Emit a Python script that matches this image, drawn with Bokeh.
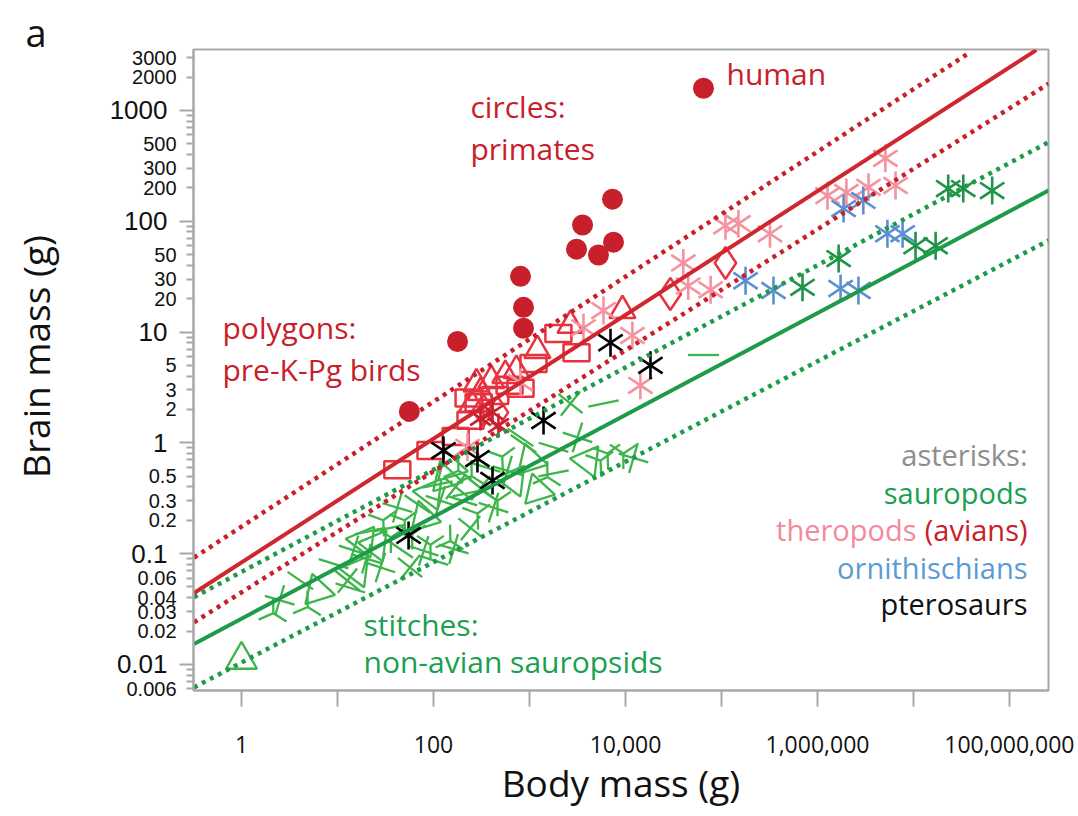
import numpy as np
from bokeh.plotting import figure
from bokeh.layouts import row
from bokeh.models import Range1d, FixedTicker, Title
from bokeh.core.properties import value
from bokeh.embed import file_html
from bokeh.resources import INLINE

# ---------------- data (grams) ----------------
primate_body = [56, 178, 806, 866, 866, 3090, 3570, 5230, 7320, 7500, 64900]
primate_brain = [1.92, 8.2, 31.8, 16.7, 10.8, 55.9, 92.5, 49.5, 158, 64.7, 1585]

bird_square_body = [42, 93, 170, 243, 295, 440, 620, 806, 1100, 2000, 3090, 232]
bird_square_brain = [0.57, 0.85, 1.14, 1.6, 2.3, 2.67, 3.3, 3.1, 5.2, 9.7, 6.5, 2.54]
bird_triangle_body = [280, 310, 400, 560, 730, 1210, 2670, 9300, 250]
bird_triangle_brain = [3.4, 2.85, 3.65, 4.05, 4.5, 6.8, 11.5, 15.6, 2.2]
bird_diamond_body = [330, 464, 29300, 110000]
bird_diamond_brain = [1.96, 1.88, 22, 42]

avian_body = [309, 412, 475]
avian_brain = [1.66, 1.88, 1.43]

theropod_body = [5900, 11800, 14300, 40000, 45000, 77000, 110000, 150000, 320000,
                 1.27e6, 2.0e6, 3.4e6, 5.1e6, 6.5e6, 3650, 226, 806]
theropod_brain = [15.6, 9.3, 3.3, 42, 26, 24, 91, 95, 77,
                  170, 182, 202, 369, 210, 10.9, 0.91, 3.5]

ornith_body = [178000, 348000, 1.74e6, 2.67e6, 1.87e6, 3.0e6, 5.35e6, 7.7e6]
ornith_brain = [29, 23.7, 24.7, 23.7, 130, 154, 77, 77]

sauropod_body = [698000, 1.66e6, 1.05e7, 1.7e7, 2.3e7, 3.3e7, 6.6e7]
sauropod_brain = [25.3, 46, 60, 60, 197, 197, 189]

ptero_body = [55, 127, 287, 412, 1400, 6980, 18200]
ptero_brain = [0.146, 0.85, 0.72, 0.457, 1.59, 8.0, 5.0]

stitch_body = [1.0, 2.5, 4.1, 6.2, 4.9, 9.1, 12.7, 14.7, 18.6, 22, 30, 36, 42, 68, 79,
               2.15, 13.6, 57, 79, 93, 226, 287, 464, 590, 866, 1020, 1540, 1780, 2670,
               3160, 4020, 5900, 6500, 9500, 12100, 806, 1210, 150, 100, 243, 422, 680,
               1780, 5500, 93, 162, 65000, 133, 182, 200, 310, 118,
               25, 35, 50, 60, 20, 45, 150, 250, 350, 170, 28, 16, 110, 520]
stitch_brain = [0.011, 0.038, 0.057, 0.046, 0.033, 0.081, 0.057, 0.107, 0.13, 0.16, 0.2,
                0.14, 0.26, 0.28, 0.21, 0.029, 0.049, 0.075, 0.106, 0.35, 0.35, 0.23, 0.3,
                0.56, 0.98, 0.69, 0.49, 0.91, 2.26, 1.12, 0.69, 2.26, 0.8, 0.8, 0.73, 1.12,
                0.37, 0.13, 0.087, 0.17, 0.26, 0.46, 0.53, 0.69, 0.12, 0.11, 6.2, 0.48,
                0.56, 0.3, 0.39, 0.3,
                0.12, 0.17, 0.2, 0.15, 0.09, 0.11, 0.6, 0.5, 0.6, 0.4, 0.075, 0.07, 0.42, 0.75]

# regression lines and bands, read at the frame edges
red_fit_body = [0.32, 1.9e8]
red_fit_brain = [0.044, 3500]
red_upper_body = [0.32, 3.9e7]
red_upper_brain = [0.092, 3350]
red_lower_body = [0.32, 2.55e8]
red_lower_brain = [0.024, 1740]
green_fit_body = [0.32, 2.55e8]
green_fit_brain = [0.0153, 189]
green_upper_body = [0.32, 2.55e8]
green_upper_brain = [0.0404, 516]
green_lower_body = [0.32, 2.55e8]
green_lower_brain = [0.0062, 67]

# axis ticks
x_ticks = [1, 10, 100, 1e3, 1e4, 1e5, 1e6, 1e7, 1e8]
x_tick_labels = ["1", "", "100", "", "10,000", "", "1,000,000", "", "100,000,000"]
y_major_ticks = [0.01, 0.1, 1, 10, 100, 1000]
y_major_labels = ["0.01", "0.1", "1", "10", "100", "1000"]
y_minor_label_ticks = [0.006, 0.02, 0.03, 0.04, 0.06, 0.2, 0.3, 0.5, 2, 3, 5,
                       20, 30, 50, 200, 300, 500, 2000, 3000]
y_minor_labels = ["0.006", "0.02", "0.03", "0.04", "0.06", "0.2", "0.3", "0.5", "2", "3", "5",
                  "20", "30", "50", "200", "300", "500", "2000", "3000"]

# ---------------- styling ----------------
PRIMATE = "#C8202A"
BIRD = "#E8323F"
AVIAN = "#C8202A"
PINK = "#F4929F"
BLUE = "#5B8FD3"
SAURO = "#1E9447"
STITCH = "#3DB54A"
RED_LINE = "#D0262E"
GREEN_LINE = "#1E9B48"
GRAY = "#A8A8A8"
SANS = "Open Sans"
TXT = "#111111"

# reference-pixel -> data helpers (for ranges and text placement)
X0, XDEC = 241.0, 96.0
Y0, YDEC = 442.3, 110.8
def px_x(px):
    return 10 ** ((px - X0) / XDEC)
def px_y(py):
    return 10 ** ((Y0 - py) / YDEC)

FRAME_LEFT, FRAME_RIGHT, FRAME_TOP, FRAME_BOTTOM = 193, 1048, 49, 690
LW = 178                      # left label panel width
MB_LEFT = FRAME_LEFT - LW     # room for the y ticks
MB_RIGHT = 26
MB_BOTTOM = 124
H = FRAME_BOTTOM + MB_BOTTOM

y_rng = (px_y(FRAME_BOTTOM), px_y(FRAME_TOP))

# ---------------- main plot ----------------
p = figure(width=MB_LEFT + (FRAME_RIGHT - FRAME_LEFT) + MB_RIGHT, height=H,
           x_axis_type="log", y_axis_type="log",
           x_range=Range1d(px_x(FRAME_LEFT), px_x(FRAME_RIGHT)), y_range=Range1d(*y_rng),
           output_backend="svg", toolbar_location=None, title=None,
           min_border_left=MB_LEFT, min_border_right=MB_RIGHT, min_border_top=FRAME_TOP,
           min_border_bottom=MB_BOTTOM)
p.grid.visible = False
p.outline_line_color = GRAY
p.outline_line_width = 2

xa = p.xaxis[0]
xa.ticker = FixedTicker(ticks=x_ticks, minor_ticks=[])
xa.major_label_overrides = {float(t): l for t, l in zip(x_ticks, x_tick_labels)}
xa.axis_line_color = GRAY
xa.axis_line_width = 2
xa.major_tick_line_color = GRAY
xa.major_tick_line_width = 2
xa.major_tick_in = 0
xa.major_tick_out = 16
xa.major_label_standoff = 29
xa.major_label_text_font = SANS
xa.major_label_text_font_size = "23px"
xa.major_label_text_color = TXT
xa.axis_label = "Body mass (g)"
xa.axis_label_text_font = SANS
xa.axis_label_text_font_size = "37px"
xa.axis_label_text_font_style = "normal"
xa.axis_label_text_color = TXT
xa.axis_label_standoff = 1

minor_y = []
for e in range(-3, 4):
    for k in range(2, 10):
        v = k * 10.0 ** e
        if y_rng[0] <= v <= y_rng[1]:
            minor_y.append(v)
ya = p.yaxis[0]
ya.ticker = FixedTicker(ticks=y_major_ticks, minor_ticks=minor_y)
ya.major_label_overrides = {float(t): "" for t in y_major_ticks}
ya.axis_line_color = GRAY
ya.axis_line_width = 2
ya.major_tick_line_color = GRAY
ya.major_tick_line_width = 2
ya.minor_tick_line_color = GRAY
ya.minor_tick_line_width = 2
ya.major_tick_in = 0
ya.minor_tick_in = 0
ya.major_tick_out = 14
ya.minor_tick_out = 7
ya.major_label_standoff = 0
ya.major_label_text_font_size = "1px"

# stitches (non-avian sauropsids)
stitch_cycle = ["y", "x", "dash", "triangle", "y", "dash", "cross", "x", "inverted_triangle", "dash", "y"]
angle_cycle = [0.0, 0.5, -0.6, 0.3, 1.0, -0.3, 0.9, -1.1, 0.4, 0.2, 2.2]
stitch_marker = [stitch_cycle[i % len(stitch_cycle)] for i in range(len(stitch_body))]
stitch_angle = [angle_cycle[i % len(angle_cycle)] for i in range(len(stitch_body))]
stitch_marker[0] = "triangle"
stitch_angle[0] = 0.0
stitch_marker[46] = "dash"
stitch_angle[46] = 0.0
p.scatter(stitch_body, stitch_brain, marker=stitch_marker, angle=stitch_angle, size=31,
          fill_color=None, line_color=STITCH, line_width=2.3)

# polygons (pre-K-Pg birds)
p.rect(bird_square_body, bird_square_brain, width=26, height=17, width_units="screen",
       height_units="screen", fill_color=None, line_color=BIRD, line_width=2.5)
p.scatter(bird_triangle_body, bird_triangle_brain, marker="triangle", size=26,
          fill_color=None, line_color=BIRD, line_width=2.5)
p.scatter(bird_diamond_body, bird_diamond_brain, marker="diamond", size=32,
          fill_color=None, line_color=BIRD, line_width=2.5)

def asterisk(xs, ys, color, size=28):
    for ang in (0.0, np.pi):
        p.scatter(xs, ys, marker="y", size=size, angle=ang, line_color=color,
                  line_width=2.6, fill_color=None)

asterisk(avian_body, avian_brain, AVIAN, 24)
asterisk(theropod_body, theropod_brain, PINK)
asterisk(ornith_body, ornith_brain, BLUE)
asterisk(sauropod_body, sauropod_brain, SAURO)
asterisk(ptero_body, ptero_brain, "#000000")

p.scatter(primate_body, primate_brain, marker="circle", size=21, fill_color=PRIMATE, line_color=None)

p.line(green_fit_body, green_fit_brain, line_color=GREEN_LINE, line_width=4)
p.line(green_upper_body, green_upper_brain, line_color=GREEN_LINE, line_width=4.5, line_dash="4 5")
p.line(green_lower_body, green_lower_brain, line_color=GREEN_LINE, line_width=4.5, line_dash="4 5")
p.line(red_fit_body, red_fit_brain, line_color=RED_LINE, line_width=4)
p.line(red_upper_body, red_upper_brain, line_color=PRIMATE, line_width=4.5, line_dash="4 5")
p.line(red_lower_body, red_lower_brain, line_color=PRIMATE, line_width=4.5, line_dash="4 5")

# in-plot annotations (py = reference baseline pixel, corrected for rendering offset)
def txt(px, py, s, color, size="30px", align="left"):
    p.text(x=[px_x(px)], y=[px_y(py)], text=[s], text_align=align, text_baseline="alphabetic",
           text_font=value(SANS), text_font_size=size, text_color=color)

txt(726, 73, "human", PRIMATE)
txt(470, 106, "circles:", PRIMATE)
txt(470, 148, "primates", PRIMATE)
txt(222, 327, "polygons:", PRIMATE)
txt(222, 369, "pre-K-Pg birds", PRIMATE)
txt(363, 624, "stitches:", "#1AA050")
txt(363, 661, "non-avian sauropsids", "#1AA050")
txt(1027, 454, "asterisks:", "#8E8E8E", "29px", "right")
txt(1027, 492, "sauropods", "#1AA050", "29px", "right")
txt(1027, 529, "(avians)", PRIMATE, "29px", "right")
txt(916, 529, "theropods", "#F28A9C", "29px", "right")
txt(1027, 567, "ornithischians", "#5B9BD5", "29px", "right")
txt(1027, 603, "pterosaurs", TXT, "29px", "right")

# ---------------- left panel: y tick labels, y title, panel letter ----------------
lp = figure(width=LW, height=H, x_range=Range1d(0, LW), y_axis_type="log",
            x_axis_location=None, y_axis_location=None, output_backend="svg",
            toolbar_location=None, title=None, min_border_left=0, min_border_right=0)
lp.grid.visible = False
lp.outline_line_color = None

if "frame_align" in lp.properties():
    # free-standing frame covering the whole panel, same vertical scale as the main frame
    lp.frame_align = False
    lp.min_border_top = 0
    lp.min_border_bottom = 0
    lp.y_range = Range1d(px_y(H), px_y(0))
    lp.text(x=[25], y=[px_y(31)], text=["a"], text_align="left", text_baseline="alphabetic",
            text_font=value(SANS), text_font_size="38px", text_color=TXT)
else:
    lp.min_border_top = FRAME_TOP
    lp.min_border_bottom = MB_BOTTOM
    lp.y_range = Range1d(*y_rng)
    lp.title = Title(text="a", align="left", offset=24, standoff=0, text_font="Liberation Sans",
                     text_font_size="38px", text_font_style="normal", text_color=TXT)

lp.text(x=[167] * len(y_major_ticks), y=y_major_ticks, text=y_major_labels,
        text_align="right", text_baseline="middle", text_font=value("Liberation Sans"),
        text_font_size="26px", text_color=TXT)
lp.text(x=[176] * len(y_minor_label_ticks), y=y_minor_label_ticks, text=y_minor_labels,
        text_align="right", text_baseline="middle", text_font=value("Liberation Sans"),
        text_font_size="20px", text_color=TXT)
lp.text(x=[35], y=[px_y(356)], text=["Brain mass (g)"], angle=np.pi / 2,
        text_align="center", text_baseline="middle", text_font=value(SANS),
        text_font_size="37px", text_color=TXT)

layout = row(lp, p)
open("out.html", "w").write(file_html(layout, INLINE))
